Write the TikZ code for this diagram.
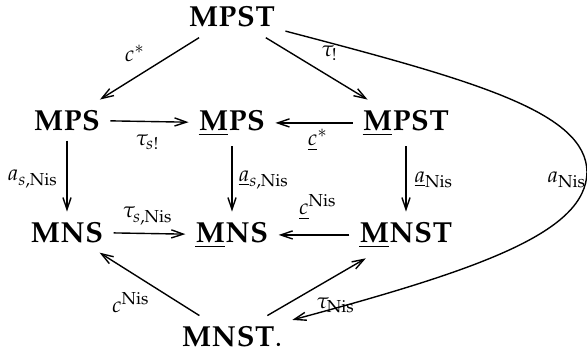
\documentclass[tikz,border=0pt]{standalone}
\usepackage{mathpazo}
\usetikzlibrary{arrows.meta}
\begin{document}
\begin{tikzpicture}[x=0.345pt,y=-0.345pt,
  obj/.style={anchor=base,inner sep=3.3pt,font=\normalsize},
  lbl/.style={inner sep=0pt},
  arr/.style={-{Straight Barb[length=4.1pt,width=2.8pt]},line width=0.48pt}]
\useasboundingbox (0,0) rectangle (587,353);
% objects
\node[obj] (mpst) at (232,27) {$\mathbf{MPST}$};
\node[obj] (mps)  at (67,130) {$\mathbf{MPS}$};
\node[obj] (umps) at (232,130) {$\underline{\mathbf{M}}\mathbf{PS}$};
\node[obj] (umpst) at (406,130) {$\underline{\mathbf{M}}\mathbf{PST}$};
\node[obj] (mns)  at (67,242) {$\mathbf{MNS}$};
\node[obj] (umns) at (232,242) {$\underline{\mathbf{M}}\mathbf{NS}$};
\node[obj] (umnst) at (406,242) {$\underline{\mathbf{M}}\mathbf{NST}$};
\node[obj] (mnstb) at (232,346) {$\mathbf{MNST}.$};
\coordinate (turn) at (587,172);
% arrows
\draw[arr] (mpst) -- (mps);
\draw[arr] (mpst) -- (umpst);
\draw[arr] (mps) -- (umps);
\draw[arr] (umpst) -- (umps);
\draw[arr] (mps) -- (mns);
\draw[arr] (umps) -- (umns);
\draw[arr] (umpst) -- (umnst);
\draw[arr] (mns) -- (umns);
\draw[arr] (umnst) -- (umns);
\draw[arr] (mnstb) -- (mns);
\draw[arr] (mnstb) -- (umnst);
\draw[arr] (mpst) .. controls (476,81) and (586,112) .. (turn)
  .. controls (586,232) and (482,269) .. (mnstb);
% labels
\node[lbl] (l1) at (135,53) {$\scriptstyle c^*$};
\node[lbl] (l2) at (330,53) {$\scriptstyle \tau_!$};
\node[lbl] (l3) at (148,142) {$\scriptstyle \tau_{s!}$};
\node[lbl] (l4) at (318,140) {$\scriptstyle \underline{c}^*$};
\node[lbl] (l5) at (33,179) {$\scriptstyle a_{s,\mathrm{Nis}}$};
\node[lbl] (l6) at (264,180) {$\scriptstyle \underline{a}_{s,\mathrm{Nis}}$};
\node[lbl] (l7) at (434,180) {$\scriptstyle \underline{a}_{\mathrm{Nis}}$};
\node[lbl] (l8) at (567,180) {$\scriptstyle a_{\mathrm{Nis}}$};
\node[lbl] (l9) at (148,216) {$\scriptstyle \tau_{s,\mathrm{Nis}}$};
\node[lbl] (l10) at (318,207) {$\scriptstyle \underline{c}^{\mathrm{Nis}}$};
\node[lbl] (l11) at (131,303) {$\scriptstyle c^{\mathrm{Nis}}$};
\node[lbl] (l12) at (336,305) {$\scriptstyle \tau_{\mathrm{Nis}}$};
\end{tikzpicture}
\end{document}
